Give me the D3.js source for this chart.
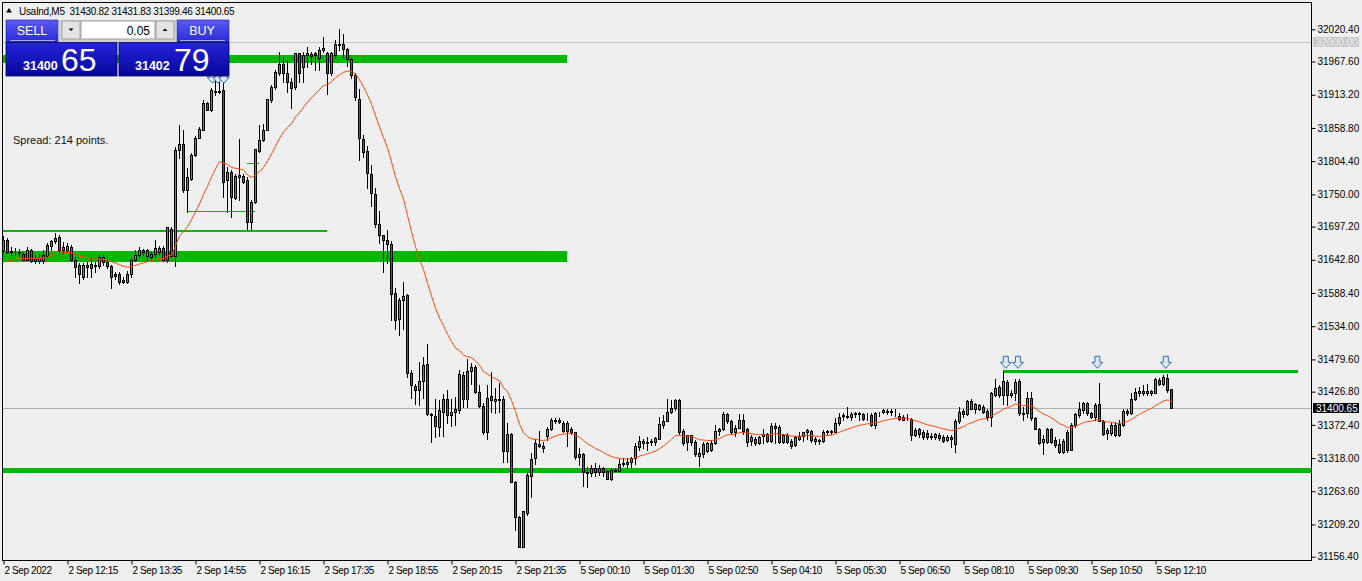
<!DOCTYPE html>
<html><head><meta charset="utf-8">
<script src="https://cdn.jsdelivr.net/npm/d3@7"></script>
<style>
body{margin:0;background:#efefef;}
svg{display:block;font-family:"Liberation Sans",Arial,sans-serif;}
</style></head>
<body><svg id="c" width="1362" height="581"></svg>
<script>
// ---------- DATA (M5 bars, UsaInd) ----------
const opens=[31659,31675,31657,31656,31654,31653,31643,31659,31646,31641,
31641,31649,31666,31673,31680,31659,31659,31664,31643,31634,
31615,31631,31636,31633,31632,31647,31639,31632,31620,31620,
31609,31607,31620,31642,31650,31659,31649,31648,31653,31655,
31662,31643,31694,31649,31823,31832,31757,31775,31814,31843,
31856,31900,31888,31917,31919,31921,31774,31786,31744,31779,
31780,31773,31705,31738,31821,31839,31856,31905,31926,31948,
31964,31948,31934,31926,31981,31959,31981,31976,31981,31974,
31986,31981,31948,31979,31997,31997,31988,31971,31946,31907,
31841,31821,31784,31750,31701,31683,31676,31669,31588,31545,
31577,31585,31458,31436,31430,31444,31472,31390,31387,31369,
31394,31415,31389,31393,31397,31454,31415,31460,31467,31426,
31403,31361,31419,31411,31415,31414,31330,31357,31279,31221,
31173,31228,31289,31318,31341,31335,31354,31365,31379,31380,
31375,31362,31365,31361,31319,31324,31295,31293,31301,31295,
31302,31296,31283,31297,31296,31308,31308,31311,31318,31336,
31346,31342,31344,31345,31350,31372,31379,31393,31400,31413,
31363,31345,31355,31345,31322,31324,31330,31331,31343,31363,
31365,31390,31378,31360,31368,31381,31365,31346,31350,31342,
31354,31357,31346,31368,31369,31345,31356,31346,31339,31350,
31354,31360,31362,31346,31346,31346,31361,31360,31361,31375,
31387,31387,31385,31390,31391,31390,31388,31389,31372,31391,
31393,31394,31395,31394,31387,31381,31385,31382,31355,31365,
31361,31359,31354,31352,31356,31352,31347,31352,31341,31378,
31395,31390,31411,31399,31399,31402,31395,31386,31421,31435,
31422,31443,31421,31424,31444,31392,31391,31416,31383,31366,
31345,31345,31365,31347,31341,31328,31361,31332,31372,31389,
31397,31408,31391,31386,31407,31379,31359,31359,31372,31356,
31372,31395,31391,31414,31425,31425,31425,31425,31425,31446,
31440,31449,31430.82];
const highs=[31682,31678,31664,31662,31660,31656,31664,31661,31650,31653,
31659,31670,31676,31686,31683,31672,31670,31667,31648,31637,
31637,31639,31645,31639,31650,31650,31643,31635,31623,31623,
31614,31625,31645,31659,31664,31661,31661,31656,31675,31665,
31665,31697,31697,31828,31864,31855,31793,31817,31845,31861,
31904,31902,31924,31940,31940,31940,31795,31790,31784,31840,
31784,31779,31741,31825,31863,31866,31907,31929,31954,31983,
31975,31970,31940,31982,31982,31983,31992,31983,31983,31992,
32008,31983,31983,32003,32021,32013,31989,31973,31948,31922,
31847,31829,31798,31761,31722,31683,31691,31673,31597,31580,
31607,31587,31462,31439,31475,31484,31505,31391,31415,31413,
31423,31430,31415,31418,31462,31459,31480,31473,31470,31437,
31408,31437,31459,31432,31441,31419,31376,31359,31280,31223,
31231,31293,31326,31350,31363,31345,31369,31383,31383,31383,
31379,31379,31369,31361,31334,31326,31304,31307,31310,31307,
31304,31297,31301,31302,31316,31318,31318,31320,31342,31354,
31350,31352,31349,31353,31386,31388,31415,31413,31415,31414,
31365,31356,31356,31348,31334,31345,31345,31348,31372,31368,
31394,31392,31380,31372,31390,31390,31367,31356,31353,31354,
31365,31359,31375,31375,31372,31357,31359,31349,31354,31361,
31361,31365,31364,31353,31350,31364,31364,31364,31383,31391,
31391,31402,31394,31394,31394,31392,31392,31391,31394,31394,
31399,31399,31399,31398,31391,31388,31390,31383,31367,31368,
31364,31364,31359,31359,31359,31356,31356,31356,31382,31402,
31399,31413,31414,31409,31407,31405,31398,31427,31447,31437,
31461,31446,31430,31448,31447,31402,31427,31427,31385,31368,
31356,31367,31367,31353,31350,31350,31364,31375,31392,31410,
31410,31410,31394,31408,31441,31380,31367,31375,31377,31380,
31398,31398,31424,31432,31435,31437,31439,31430,31449,31449,
31454,31456,31431.83];
const lows=[31656,31654,31651,31651,31649,31642,31642,31640,31637,31638,
31637,31647,31659,31671,31656,31653,31655,31641,31615,31604,
31612,31615,31614,31623,31629,31634,31629,31596,31612,31603,
31604,31604,31615,31641,31648,31650,31642,31642,31648,31650,
31641,31640,31647,31633,31809,31754,31721,31773,31813,31842,
31855,31888,31887,31913,31916,31746,31721,31713,31742,31741,
31769,31694,31691,31736,31820,31838,31855,31902,31923,31945,
31934,31918,31891,31923,31934,31934,31959,31964,31953,31953,
31984,31915,31945,31974,31986,31975,31961,31941,31904,31807,
31812,31761,31731,31697,31671,31622,31638,31544,31530,31520,
31530,31451,31417,31406,31405,31416,31388,31345,31352,31354,
31354,31375,31371,31372,31392,31401,31402,31439,31424,31402,
31358,31350,31394,31392,31394,31312,31312,31279,31200,31172,
31172,31225,31255,31309,31336,31328,31348,31364,31375,31375,
31361,31338,31358,31317,31306,31273,31271,31288,31288,31290,
31288,31283,31282,31296,31296,31305,31303,31303,31309,31331,
31334,31332,31339,31339,31349,31367,31378,31391,31397,31358,
31339,31331,31339,31322,31305,31320,31328,31329,31341,31356,
31364,31376,31357,31354,31367,31358,31337,31339,31339,31341,
31342,31344,31344,31342,31342,31342,31342,31334,31338,31348,
31346,31350,31345,31341,31341,31345,31356,31358,31360,31372,
31381,31383,31381,31385,31381,31380,31380,31371,31368,31387,
31391,31390,31388,31387,31380,31380,31381,31348,31354,31353,
31350,31349,31350,31350,31348,31344,31346,31336,31328,31375,
31385,31388,31398,31392,31396,31391,31381,31370,31420,31418,
31407,31405,31418,31413,31388,31380,31385,31380,31365,31341,
31324,31342,31342,31336,31326,31326,31328,31331,31369,31386,
31391,31389,31383,31380,31378,31356,31349,31356,31354,31354,
31370,31388,31390,31413,31419,31421,31421,31421,31424,31438,
31438,31427,31399.46];
const closes=[31675,31656,31655,31655,31656,31643,31659,31641,31641,31646,
31650,31667,31674,31679,31659,31664,31665,31643,31631,31619,
31634,31635,31630,31634,31647,31639,31632,31615,31616,31606,
31606,31620,31642,31650,31659,31655,31659,31653,31662,31662,
31643,31696,31649,31823,31832,31757,31778,31814,31843,31857,
31900,31889,31921,31920,31918,31770,31786,31745,31780,31782,
31771,31705,31738,31824,31839,31856,31906,31926,31951,31964,
31948,31934,31925,31981,31948,31979,31978,31980,31978,31986,
31989,31948,31981,31997,31994,31988,31971,31946,31910,31842,
31820,31785,31752,31702,31684,31676,31669,31586,31544,31577,
31583,31457,31437,31429,31445,31470,31390,31388,31370,31396,
31414,31389,31394,31398,31455,31415,31460,31467,31426,31403,
31360,31417,31413,31414,31413,31330,31358,31279,31221,31173,
31231,31290,31316,31342,31337,31337,31365,31380,31380,31377,
31363,31375,31361,31319,31324,31295,31293,31301,31295,31301,
31295,31284,31298,31298,31308,31310,31312,31318,31338,31346,
31342,31344,31346,31351,31373,31379,31393,31400,31413,31361,
31342,31355,31345,31324,31326,31341,31342,31343,31363,31365,
31390,31379,31361,31368,31381,31363,31345,31352,31343,31352,
31357,31346,31370,31371,31345,31356,31345,31338,31352,31354,
31360,31364,31348,31349,31348,31361,31362,31363,31376,31386,
31389,31386,31390,31391,31390,31382,31389,31372,31392,31392,
31397,31395,31394,31393,31382,31385,31386,31355,31364,31357,
31353,31352,31353,31358,31351,31346,31353,31349,31378,31393,
31390,31411,31399,31406,31405,31393,31385,31424,31432,31422,
31444,31421,31425,31443,31391,31390,31416,31383,31366,31343,
31350,31365,31345,31339,31328,31346,31331,31372,31390,31398,
31408,31391,31386,31405,31379,31357,31364,31372,31356,31374,
31395,31391,31414,31427,31428,31428,31428,31428,31447,31440,
31450,31429,31400.65];

const xTickBars=[0,16,32,48,64,80,96,112,128,144,160,176,192,208,224,240,256,272,288];
const xTickLabels=["2 Sep 2022","2 Sep 12:15","2 Sep 13:35","2 Sep 14:55","2 Sep 16:15","2 Sep 17:35",
"2 Sep 18:55","2 Sep 20:15","2 Sep 21:35","5 Sep 00:10","5 Sep 01:30","5 Sep 02:50","5 Sep 04:10",
"5 Sep 05:30","5 Sep 06:50","5 Sep 08:10","5 Sep 09:30","5 Sep 10:50","5 Sep 12:10"];
const yTicks=[32020.40,31967.60,31913.20,31858.80,31804.40,31750.00,31697.20,31642.80,31588.40,
31534.00,31479.60,31426.80,31372.40,31318.00,31263.60,31209.20,31156.40];

// EMA indicator settings
const maPeriod=20;
const maSeed=31639;

// chart objects: zones (thick green), trend lines (thin green), arrows
const zoneFrom=[0,0,0];
const zoneTo=[141,141,330];
const zoneHigh=[31978,31657,31301.5];
const zoneLow=[31965,31640,31293];
const lineFrom=[0,250,61,46];
const lineTo=[81,323.75,64,63];
const linePrice=[31690.5,31460,31801,31722.7];
const lineWidth=[2,3,1,1];
const arrowBars=[250.7,253.75,273.6,290.7,52.4,53.75,55.2];
const arrowPrice=[31465,31465,31465,31465,31932,31932,31932];
const roundLevel=32000.00;
const bidPrice=31400.65;
const symbolText="UsaInd,M5  31430.82 31431.83 31399.46 31400.65";
const spreadText="Spread: 214 points.";
const sellBig=["31400","65"], buyBig=["31402","79"], lotText="0.05";

// ---------- DRAW ----------
const svg=d3.select("#c");
const L=2.5,R=1311.5,T=2.5,B=560.5;
const x=d3.scaleLinear().domain([0,292]).range([3,1171]);
const y=d3.scaleLinear().domain([31156.4,32020.4]).range([556.7,29.3]);
const bull="#1e90ff", bear="#d9262a";

const defs=svg.append("defs");
defs.append("clipPath").attr("id","plot").append("rect").attr("x",L).attr("y",T).attr("width",R-L).attr("height",B-T);
function grad(id,c1,c2){const g=defs.append("linearGradient").attr("id",id).attr("x1",0).attr("y1",0).attr("x2",0).attr("y2",1);
 g.append("stop").attr("offset","0%").attr("stop-color",c1);g.append("stop").attr("offset","100%").attr("stop-color",c2);}
grad("btn","#5a5af2","#2a2ad6");
grad("box","#2424dc","#06069a");

const plot=svg.append("g").attr("clip-path","url(#plot)");

// zones
plot.selectAll("rect.zone").data(zoneFrom).join("rect").attr("class","zone")
 .attr("x",(d,i)=>x(d)).attr("width",(d,i)=>x(zoneTo[i])-x(d))
 .attr("y",(d,i)=>Math.round(y(zoneHigh[i]))).attr("height",(d,i)=>Math.max(1,Math.round(y(zoneLow[i]))-Math.round(y(zoneHigh[i]))))
 .attr("fill","#00b800");
// trend lines
plot.selectAll("line.tl").data(lineFrom).join("line").attr("class","tl")
 .attr("x1",d=>x(d)).attr("x2",(d,i)=>x(lineTo[i]))
 .attr("y1",(d,i)=>Math.round(y(linePrice[i]))+(lineWidth[i]%2?0.5:0)).attr("y2",(d,i)=>Math.round(y(linePrice[i]))+(lineWidth[i]%2?0.5:0))
 .attr("stroke","#00b800").attr("stroke-width",(d,i)=>lineWidth[i]);
// grey price levels
[[roundLevel,"#c4c4c4"],[bidPrice,"#b0b0b0"]].forEach(([p,c])=>{
 plot.append("line").attr("x1",L).attr("x2",R).attr("y1",Math.round(y(p))+0.5).attr("y2",Math.round(y(p))+0.5).attr("stroke",c);
});

// candles
const idx=d3.range(closes.length);
const cg=plot.append("g");
cg.selectAll("line.w").data(idx).join("line").attr("class","w")
 .attr("x1",i=>x(i)+0.5).attr("x2",i=>x(i)+0.5)
 .attr("y1",i=>Math.round(y(highs[i]))).attr("y2",i=>Math.round(y(lows[i]))+1)
 .attr("stroke","#000").attr("stroke-width",1);
cg.selectAll("rect.b").data(idx).join("rect").attr("class","b")
 .attr("x",i=>x(i)-0.5).attr("width",2)
 .attr("y",i=>Math.round(y(Math.max(opens[i],closes[i])))+0.5)
 .attr("height",i=>Math.max(0,Math.round(y(Math.min(opens[i],closes[i])))-Math.round(y(Math.max(opens[i],closes[i])))))
 .attr("fill",i=>closes[i]>=opens[i]?bull:bear).attr("stroke","#000").attr("stroke-width",1);

// EMA
const a=2/(maPeriod+1);const ema=[];
closes.forEach((c,i)=>{ema.push(i===0?maSeed:ema[i-1]+a*(c-ema[i-1]));});
plot.append("path").datum(ema).attr("fill","none").attr("stroke","#ff4a10").attr("stroke-width",1)
 .attr("d",d3.line().x((d,i)=>x(i)+0.5).y(d=>y(d)));

// arrows
plot.selectAll("path.arr").data(arrowBars).join("path").attr("class","arr")
 .attr("d",(d,i)=>{const tx=x(d),ty=y(arrowPrice[i]);
   return `M${tx-2.5},${ty-12}L${tx+2.5},${ty-12}L${tx+2.5},${ty-6}L${tx+5.5},${ty-6}L${tx},${ty}L${tx-5.5},${ty-6}L${tx-2.5},${ty-6}Z`;})
 .attr("fill","#dde7f4").attr("stroke","#3a6db5").attr("stroke-width",1);

// frame
svg.append("rect").attr("x",L).attr("y",T).attr("width",R-L).attr("height",B-T).attr("fill","none").attr("stroke","#000");

// y axis
const ya=svg.append("g").attr("transform",`translate(${R},0)`)
 .call(d3.axisRight(y).tickValues(yTicks).tickSize(4).tickPadding(2).tickFormat(d3.format(".2f")));
ya.select(".domain").remove();
ya.selectAll("text").attr("font-size","10px").attr("font-family","Liberation Sans, Arial").attr("fill","#000");
ya.selectAll("line").attr("stroke","#000");
// x axis
const xa=svg.append("g").attr("transform",`translate(0,${B})`)
 .call(d3.axisBottom(x).tickValues(xTickBars).tickSize(4).tickFormat((d,i)=>xTickLabels[i]));
xa.select(".domain").remove();
xa.selectAll(".tick line").attr("stroke","#000").attr("transform","translate(0.5,0)");
xa.selectAll("text").attr("text-anchor","start").attr("x",1).attr("y",13).attr("dy",0)
 .attr("font-size","10px").attr("letter-spacing","-0.4px").attr("font-family","Liberation Sans, Arial").attr("fill","#000");

// price labels on axis
function priceTag(p,bg,fg){const yy=Math.round(y(p));
 svg.append("rect").attr("x",1313).attr("y",yy-5).attr("width",46).attr("height",10).attr("fill",bg);
 svg.append("text").attr("x",1316).attr("y",yy+3.8).attr("font-size","10px").attr("fill",fg).text(d3.format(".2f")(p));}
priceTag(roundLevel,"#c6c6c6","#eeeeee");
priceTag(bidPrice,"#000","#fff");

// header
svg.append("path").attr("d","M6,12.5L12,12.5L9,8Z").attr("fill","#000");
svg.append("text").attr("x",19).attr("y",14.5).attr("font-size","10px").attr("letter-spacing","-0.3px").attr("fill","#000")
 .attr("xml:space","preserve").style("white-space","pre").text(symbolText);
svg.append("text").attr("x",13).attr("y",144).attr("font-size","11px").attr("fill","#111").text(spreadText);

// one-click panel
const pn=svg.append("g");
pn.append("rect").attr("x",59).attr("y",20).attr("width",117).attr("height",23).attr("fill","#d0d0d0");
pn.append("rect").attr("x",6).attr("y",20).attr("width",52).attr("height",22).attr("fill","url(#btn)").attr("stroke","#2020a0").attr("stroke-width",0.6);
pn.append("rect").attr("x",177).attr("y",20).attr("width",52).attr("height",22).attr("fill","url(#btn)").attr("stroke","#2020a0").attr("stroke-width",0.6);
pn.append("line").attr("x1",10).attr("x2",55).attr("y1",40.5).attr("y2",40.5).attr("stroke","#a8a8ff");
pn.append("line").attr("x1",180).attr("x2",225).attr("y1",40.5).attr("y2",40.5).attr("stroke","#a8a8ff");
pn.append("rect").attr("x",62).attr("y",21).attr("width",18).attr("height",18).attr("fill","#e4e4e4").attr("stroke","#a0a0a0");
pn.append("rect").attr("x",81).attr("y",21).attr("width",74).attr("height",18).attr("fill","#fff").attr("stroke","#a0a0a0");
pn.append("rect").attr("x",156).attr("y",21).attr("width",18).attr("height",18).attr("fill","#e4e4e4").attr("stroke","#a0a0a0");
pn.append("path").attr("d","M68.5,28.5L73.5,28.5L71,31Z").attr("fill","#000");
pn.append("path").attr("d","M162.5,31L167.5,31L165,28.5Z").attr("fill","#000");
pn.append("text").attr("x",150).attr("y",34.5).attr("text-anchor","end").attr("font-size","12px").attr("fill","#000").text(lotText);
pn.append("text").attr("x",32).attr("y",35).attr("text-anchor","middle").attr("font-size","12.5px").attr("fill","#fff").text("SELL");
pn.append("text").attr("x",202).attr("y",35).attr("text-anchor","middle").attr("font-size","12.5px").attr("fill","#fff").text("BUY");
pn.append("rect").attr("x",6).attr("y",42.5).attr("width",111).attr("height",33.5).attr("fill","url(#box)").attr("stroke","#00005a").attr("stroke-width",0.8);
pn.append("rect").attr("x",119).attr("y",42.5).attr("width",110).attr("height",33.5).attr("fill","url(#box)").attr("stroke","#00005a").attr("stroke-width",0.8);
pn.append("text").attr("x",23).attr("y",70).attr("font-size","12.5px").attr("font-weight","bold").attr("fill","#fff").text(sellBig[0]);
pn.append("text").attr("x",61).attr("y",70.5).attr("font-size","32px").attr("fill","#fff").text(sellBig[1]);
pn.append("text").attr("x",135).attr("y",70).attr("font-size","12.5px").attr("font-weight","bold").attr("fill","#fff").text(buyBig[0]);
pn.append("text").attr("x",174).attr("y",70.5).attr("font-size","32px").attr("fill","#fff").text(buyBig[1]);
</script>
</body></html>
